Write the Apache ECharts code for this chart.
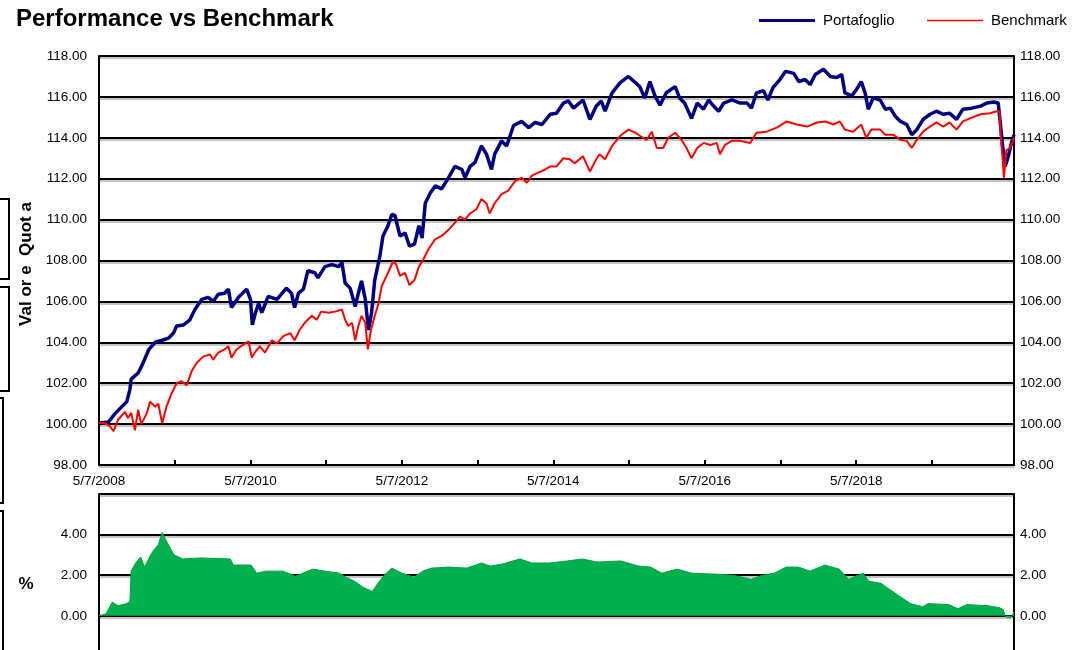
<!DOCTYPE html>
<html><head><meta charset="utf-8">
<script src="https://cdn.jsdelivr.net/npm/echarts@6/dist/echarts.min.js"></script>
<style>html,body{margin:0;padding:0;background:#fff}#c{width:1072px;height:650px}</style>
</head><body><div id="c"></div>
<script>
// x values: months since 5/7/2008
const portX = [0.0,1.5,2.5,4.4,4.9,5.1,6.2,6.7,7.2,7.9,8.9,10.0,11.0,11.8,12.3,13.4,14.4,15.2,16.3,17.3,18.1,18.9,19.9,20.5,21.0,22.1,23.4,24.0,24.3,24.8,25.3,25.8,26.8,28.2,29.7,30.5,31.0,31.6,32.4,33.1,34.2,34.7,35.8,36.9,38.0,38.5,39.0,39.8,40.6,41.1,41.6,42.2,42.7,43.2,43.7,44.5,45.0,45.8,46.4,46.9,47.7,48.5,49.2,50.0,50.7,51.2,51.7,52.5,53.3,54.3,55.4,56.4,57.5,58.0,58.8,59.6,60.6,61.4,62.2,62.7,63.8,64.6,65.7,67.0,68.1,69.1,70.2,71.5,
 72.5,73.6,74.4,75.2,76.7,77.8,78.8,79.6,80.2,81.3,82.6,83.9,85.0,85.7,86.5,87.3,88.1,88.9,89.9,91.3,92.0,92.8,93.9,94.8,95.8,96.6,97.4,98.2,99.0,100.3,101.6,102.7,103.4,104.2,105.3,106.0,106.8,107.9,108.8,110.1,110.9,111.9,112.7,113.5,114.8,115.9,116.9,117.7,118.2,119.3,120.0,120.8,121.4,121.9,122.7,123.8,124.6,125.4,126.2,127.0,128.0,128.8,129.6,130.6,131.7,132.7,133.8,134.8,135.9,136.9,138.3,139.7,140.7,141.8,142.5,142.8,143.2,143.6,144.1,144.6,145.0];
const portafoglio = [100.05,100.1,100.5,101.1,101.7,102.2,102.5,102.8,103.15,103.65,104.0,104.1,104.2,104.45,104.8,104.85,105.1,105.6,106.1,106.2,106.0,106.35,106.4,106.6,105.7,106.2,106.6,106.1,104.85,105.45,105.9,105.45,106.25,106.1,106.65,106.4,105.7,106.4,106.6,107.5,107.4,107.15,107.7,107.8,107.7,107.9,106.9,106.65,105.75,106.4,107.0,106.1,104.6,105.45,107.05,108.2,109.2,109.7,110.25,110.2,109.2,109.35,108.7,108.8,109.7,109.1,110.8,111.3,111.65,111.5,112.05,112.6,112.45,112.05,112.6,112.8,113.6,113.2,112.45,113.2,113.85,113.6,114.6,114.8,114.5,114.75,114.65,115.15,
 115.2,115.7,115.8,115.45,115.85,114.9,115.55,115.8,115.3,116.2,116.7,117.0,116.7,116.5,115.95,116.75,116.05,115.6,116.2,116.5,115.95,115.7,114.95,115.7,115.4,115.85,115.55,115.3,115.7,115.85,115.7,115.7,115.45,116.2,116.3,115.85,116.45,116.85,117.25,117.15,116.75,116.85,116.6,117.1,117.35,117.0,116.95,117.1,116.2,116.05,116.35,116.75,116.2,115.4,115.95,115.85,115.4,115.45,115.05,114.8,114.65,114.15,114.4,114.9,115.15,115.3,115.15,115.2,114.9,115.4,115.45,115.55,115.7,115.75,115.7,114.8,113.6,112.6,113.1,113.75,114.15];

const benchX = [0.0,0.9,1.7,2.3,3.0,4.1,4.6,5.1,5.7,6.2,6.7,7.6,8.1,8.9,9.4,10.0,10.7,11.5,12.3,13.1,13.9,14.7,15.5,16.5,17.6,18.1,18.9,19.9,20.5,21.0,21.8,22.9,23.7,24.2,24.8,25.5,26.3,27.4,28.2,29.2,30.3,31.0,31.8,32.6,33.7,34.5,35.2,36.4,37.4,38.5,39.0,39.5,40.1,40.6,41.1,41.6,42.2,42.6,43.1,43.7,44.3,44.8,45.8,46.6,47.1,47.7,48.5,49.2,50.0,50.7,51.4,52.2,53.3,54.3,55.4,56.4,57.2,58.0,58.8,59.8,60.6,61.4,61.9,62.7,63.8,64.8,66.0,67.0,67.8,68.6,69.6,70.7,71.5,
 72.5,73.6,74.6,75.4,76.7,77.8,78.8,79.3,80.2,81.3,82.6,83.9,85.0,85.7,86.8,87.6,88.4,89.4,90.2,91.3,92.3,93.1,93.9,94.8,95.8,96.9,97.9,98.4,99.2,100.3,101.6,103.2,104.2,105.8,107.4,109.0,110.6,112.2,113.8,115.1,116.4,117.4,118.2,119.5,120.8,121.6,122.4,123.8,124.6,125.9,127.0,128.0,128.8,129.6,130.6,131.7,132.7,133.8,134.8,135.9,136.9,138.0,139.7,141.2,142.3,142.7,142.9,143.2,143.4,143.8,144.4,145.0];
const benchmark = [100.05,100.05,99.9,99.65,100.2,100.6,100.3,100.55,99.7,100.7,100.0,100.55,101.1,100.85,101.0,100.05,100.85,101.5,102.0,102.1,101.9,102.6,103.0,103.3,103.4,103.15,103.5,103.65,103.8,103.25,103.65,103.9,104.05,103.25,103.55,103.8,103.5,104.1,103.95,104.3,104.45,104.1,104.6,104.95,105.3,105.1,105.5,105.45,105.5,105.6,105.1,104.8,104.95,104.1,104.8,105.3,104.95,103.65,104.6,105.3,105.9,106.75,107.4,107.95,107.8,107.25,107.4,106.8,107.05,107.7,108.05,108.55,109.05,109.2,109.5,109.85,110.15,110.0,110.3,110.5,111.0,110.8,110.3,110.8,111.25,111.4,111.9,112.05,111.8,112.15,112.3,112.45,112.6,
 112.6,113.0,112.95,112.75,113.1,112.35,112.95,113.2,112.95,113.6,114.1,114.4,114.25,114.1,113.9,114.3,113.5,113.5,114.0,114.25,113.9,113.5,113.0,113.5,113.75,113.65,113.75,113.2,113.65,113.85,113.85,113.75,114.25,114.3,114.5,114.8,114.65,114.55,114.75,114.8,114.65,114.8,114.4,114.3,114.65,114.0,114.4,114.4,114.15,114.15,113.9,113.85,113.5,113.9,114.3,114.55,114.75,114.55,114.75,114.4,114.8,114.95,115.15,115.2,115.3,115.3,114.05,112.95,112.05,113.4,113.5,114.0];

const diffX = [0.0,1.1,2.1,3.0,4.4,4.9,5.1,5.8,6.6,7.2,8.2,8.6,9.4,10.0,11.0,11.9,13.3,16.1,20.8,21.3,24.1,25.0,26.4,29.2,31.1,33.9,35.8,38.1,39.1,40.5,41.9,43.3,44.2,45.2,46.4,48.0,49.9,51.3,52.7,55.5,58.3,60.6,62.0,63.9,66.7,68.6,71.4,74.2,76.6,78.9,82.7,85.5,87.4,89.2,91.6,93.9,97.7,100.5,103.3,105.2,107.0,108.9,110.8,112.7,115.0,117.3,118.8,121.1,122.0,123.9,125.3,126.7,128.6,130.5,131.4,134.7,136.1,137.5,140.8,142.7,143.3,143.6,144.5,145.0];
const differenza = [0,0.1,0.67,0.5,0.6,0.7,2.2,2.6,2.9,2.4,3.0,3.2,3.5,4.1,3.5,3.0,2.8,2.85,2.8,2.5,2.5,2.1,2.2,2.2,1.95,2.3,2.2,2.1,1.9,1.7,1.4,1.2,1.6,2.0,2.35,2.1,1.9,2.2,2.35,2.4,2.35,2.6,2.45,2.55,2.8,2.6,2.6,2.7,2.8,2.65,2.7,2.45,2.4,2.1,2.3,2.1,2.05,2.0,1.8,2.0,2.1,2.4,2.4,2.2,2.5,2.3,1.8,2.1,1.7,1.6,1.3,1.0,0.6,0.45,0.6,0.55,0.35,0.55,0.5,0.4,0.3,-0.05,-0.1,0.2];

const yearTicks = [0,12,24,36,48,60,72,84,96,108,120,132];
const labelTicks = [0,24,48,72,96,120];
const tickLabels = ['5/7/2008','5/7/2010','5/7/2012','5/7/2014','5/7/2016','5/7/2018'];

const FONT = '"Liberation Sans", Arial, sans-serif';
const chart = echarts.init(document.getElementById('c'), null, {renderer:'canvas'});
const zip = (xs, ys) => xs.map((x,i)=>[x, ys[i]]);
const shadow = {shadowColor:'#c4c4c4', shadowOffsetY:2, shadowBlur:0};
const lab = {fontSize:13.5, color:'#000', fontFamily:FONT};

chart.setOption({
  animation:false,
  backgroundColor:'#fff',
  title:{text:'Performance vs Benchmark', left:16, top:7, padding:0,
    textStyle:{fontSize:24, fontWeight:'bold', color:'#000', fontFamily:FONT}},
  legend:[
    {data:[{name:'Portafoglio', itemStyle:{color:'#000080'}}], left:759, top:13, padding:0, icon:'rect', itemWidth:56, itemHeight:3,
      textStyle:{fontSize:15, color:'#000', fontFamily:FONT, padding:[0,0,0,3]}},
    {data:[{name:'Benchmark', itemStyle:{color:'#ff0000'}}], left:927, top:13, padding:0, icon:'rect', itemWidth:56, itemHeight:1.5,
      textStyle:{fontSize:15, color:'#000', fontFamily:FONT, padding:[0,0,0,3]}}
  ],
  grid:[
    {left:99, top:56, width:915, height:409, outerBoundsMode:'none', containLabel:false},
    {left:99, top:494, width:915, height:162.4, outerBoundsMode:'none', containLabel:false}
  ],
  xAxis:[
    {gridIndex:0, type:'value', min:0, max:145,
      axisLine:{lineStyle:{color:'#000', width:2}},
      axisTick:{inside:true, length:5, customValues:yearTicks, lineStyle:{color:'#000', width:2}},
      axisLabel:Object.assign({customValues:labelTicks, margin:9,
        formatter:v=>tickLabels[Math.round(v/24)]}, lab),
      splitLine:{show:false}},
    {gridIndex:1, type:'value', min:0, max:145, position:'top',
      axisLine:{lineStyle:{color:'#000', width:2}},
      axisTick:{inside:false, length:3, customValues:yearTicks, lineStyle:{color:'#000', width:2}},
      axisLabel:{show:false}, splitLine:{show:false}}
  ],
  yAxis:[
    {gridIndex:0, type:'value', min:98, max:118, interval:2, position:'left',
      axisLine:{show:true, lineStyle:{color:'#000', width:2}}, axisTick:{show:false},
      axisLabel:Object.assign({margin:12, formatter:v=>v.toFixed(2)}, lab),
      splitLine:{lineStyle:Object.assign({color:'#000', width:2}, shadow)}},
    {gridIndex:0, type:'value', min:98, max:118, interval:2, position:'right',
      axisLine:{show:true, lineStyle:{color:'#000', width:2}}, axisTick:{show:false},
      axisLabel:Object.assign({margin:6, formatter:v=>v.toFixed(2)}, lab),
      splitLine:{show:false}},
    {gridIndex:1, type:'value', min:-2, max:6, interval:2, position:'left',
      axisLine:{show:true, lineStyle:{color:'#000', width:2}}, axisTick:{show:false},
      axisLabel:Object.assign({margin:12, showMaxLabel:false, formatter:v=>v.toFixed(2)}, lab),
      splitLine:{lineStyle:Object.assign({color:['#000','#9a9a9a','#000','#000','#000'], width:2}, shadow)}},
    {gridIndex:1, type:'value', min:-2, max:6, interval:2, position:'right',
      axisLine:{show:true, lineStyle:{color:'#000', width:2}}, axisTick:{show:false},
      axisLabel:Object.assign({margin:6, showMaxLabel:false, formatter:v=>v.toFixed(2)}, lab),
      splitLine:{show:false}}
  ],
  series:[
    {name:'Portafoglio', type:'line', xAxisIndex:0, yAxisIndex:0, data:zip(portX, portafoglio),
      showSymbol:false, symbol:'none', color:'#000080', lineStyle:{color:'#000080', width:3.5}, z:3},
    {name:'Benchmark', type:'line', xAxisIndex:0, yAxisIndex:0, data:zip(benchX, benchmark),
      showSymbol:false, symbol:'none', color:'#ff0000', lineStyle:{color:'#ff0000', width:2}, z:4},
    {name:'Differenza', type:'line', xAxisIndex:1, yAxisIndex:2, data:zip(diffX, differenza),
      showSymbol:false, symbol:'none', color:'#00b04c', lineStyle:{color:'#00a045', width:1},
      areaStyle:{color:'#00b04c', opacity:1}, z:2}
  ],
  graphic:[
    {type:'text', x:26, y:264, rotation:Math.PI/2,
      style:{text:'Val or e  Quot a', font:'bold 17px "Liberation Sans", Arial', fill:'#000', align:'center', verticalAlign:'middle'}},
    {type:'text', x:26, y:584,
      style:{text:'%', font:'bold 17px "Liberation Sans", Arial', fill:'#000', align:'center', verticalAlign:'middle'}},
    {type:'polyline', shape:{points:[[0,199],[9,199],[9,279],[0,279]]}, style:{stroke:'#000', lineWidth:2, fill:null}},
    {type:'polyline', shape:{points:[[0,287],[9,287],[9,391],[0,391]]}, style:{stroke:'#000', lineWidth:2, fill:null}},
    {type:'polyline', shape:{points:[[0,398],[3,398],[3,503],[0,503]]}, style:{stroke:'#000', lineWidth:2, fill:null}},
    {type:'polyline', shape:{points:[[0,511],[3,511],[3,652]]}, style:{stroke:'#000', lineWidth:2, fill:null}}
  ]
});
</script></body></html>
